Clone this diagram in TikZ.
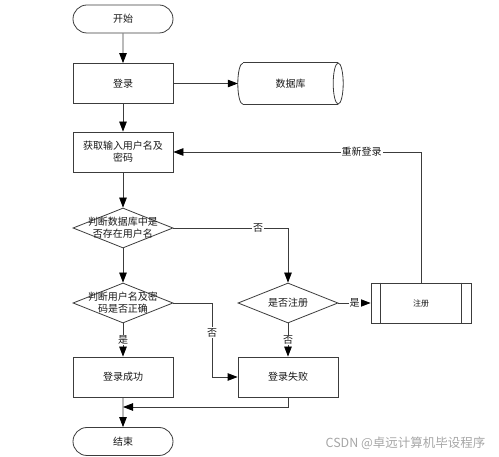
\documentclass[tikz,border=0pt]{standalone}
\usepackage{fontspec}
\setmainfont{Noto Sans CJK SC}
\usetikzlibrary{shapes.geometric,shapes.misc,arrows.meta,calc}
\definecolor{ln}{RGB}{60,60,60}
\begin{document}
\begin{tikzpicture}[x=1pt,y=-1pt,
  font=\fontsize{10}{12}\selectfont,
  every node/.style={text=black!90},
  box/.style={draw=ln,line width=0.8pt,fill=white,minimum width=100pt,minimum height=40pt,inner sep=2pt,align=center},
  term/.style={draw=ln,line width=0.8pt,fill=white,rounded rectangle,minimum width=100pt,minimum height=28pt,inner sep=0pt},
  dia/.style={draw=ln,line width=0.8pt,fill=white,diamond,aspect=2.5,minimum width=100pt,minimum height=40pt,inner sep=0pt},
  arr/.style={draw=ln,line width=0.8pt,-{Triangle[length=10pt,width=7.5pt,color=black]}},
  ln/.style={draw=ln,line width=0.8pt},
  lab/.style={fill=white,inner sep=1pt}]
\useasboundingbox (0,0) rectangle (499,457);
\node[term] (start) at (123,19) {开始};
\node[box] (login) at (123,83.5) {登录};
\node[minimum width=105pt,minimum height=41pt,inner sep=0pt] (db) at (290.5,83.5) {数据库};
\draw[ln] ($(db.north west)+(5,0)$) -- ($(db.north east)+(-5,0)$);
\draw[ln] ($(db.south west)+(5,0)$) -- ($(db.south east)+(-5,0)$);
\draw[ln] ($(db.east)+(-5,0)$) ellipse[x radius=5,y radius=20.5];
\draw[ln] ($(db.south west)+(5,0)$) arc[start angle=90,end angle=270,x radius=5,y radius=20.5];
\node[box] (input) at (123,152) {获取输入用户名及\\密码};
\node[dia,label={[align=center,font=\fontsize{10}{12}\selectfont]center:判断数据库中是\\否存在用户名}] (d1) at (123,228) {};
\node[dia,label={[align=center,font=\fontsize{10}{12}\selectfont]center:判断用户名及密\\码是否正确}] (d2) at (123,303) {};
\node[dia] (d3) at (288,303) {是否注册};
\node[box] (reg) at (421,303) {\fontsize{8}{10}\selectfont 注册};
\draw[ln] ($(reg.north west)+(10,0)$) -- ($(reg.south west)+(10,0)$);
\draw[ln] ($(reg.north east)+(-10,0)$) -- ($(reg.south east)+(-10,0)$);
\node[box] (succ) at (123,377) {登录成功};
\node[box] (fail) at (288,377) {登录失败};
\node[term] (end) at (123,441.5) {结束};
\coordinate (k1) at (212,303);
\coordinate (m) at (123,407);
\draw[arr] (start) -- (login);
\draw[arr] (login) -- (db);
\draw[arr] (login) -- (input);
\draw[arr] (input) -- (d1);
\draw[arr] (d1) -- (d2);
\draw[arr] (d1.east) -| node[lab,pos=0.37]{否} (d3.north);
\draw[arr] (d2) -- node[lab]{是} (succ);
\draw[arr] (d2.east) -- (k1) |- node[lab,pos=0.2]{否} (fail.west);
\draw[arr] (d3) -- node[lab]{否} (fail);
\draw[arr] (d3) -- node[lab]{是} (reg);
\draw[arr] (reg.north) |- node[lab,pos=0.62]{重新登录} (input.east);
\draw[arr] (fail.south) |- (m);
\draw[arr] (succ) -- (end);
\node[anchor=east,text=black!35,font=\fontsize{12.5}{14}\selectfont] (wm) at (489,443) {CSDN @卓远计算机毕设程序};
\end{tikzpicture}
\end{document}
